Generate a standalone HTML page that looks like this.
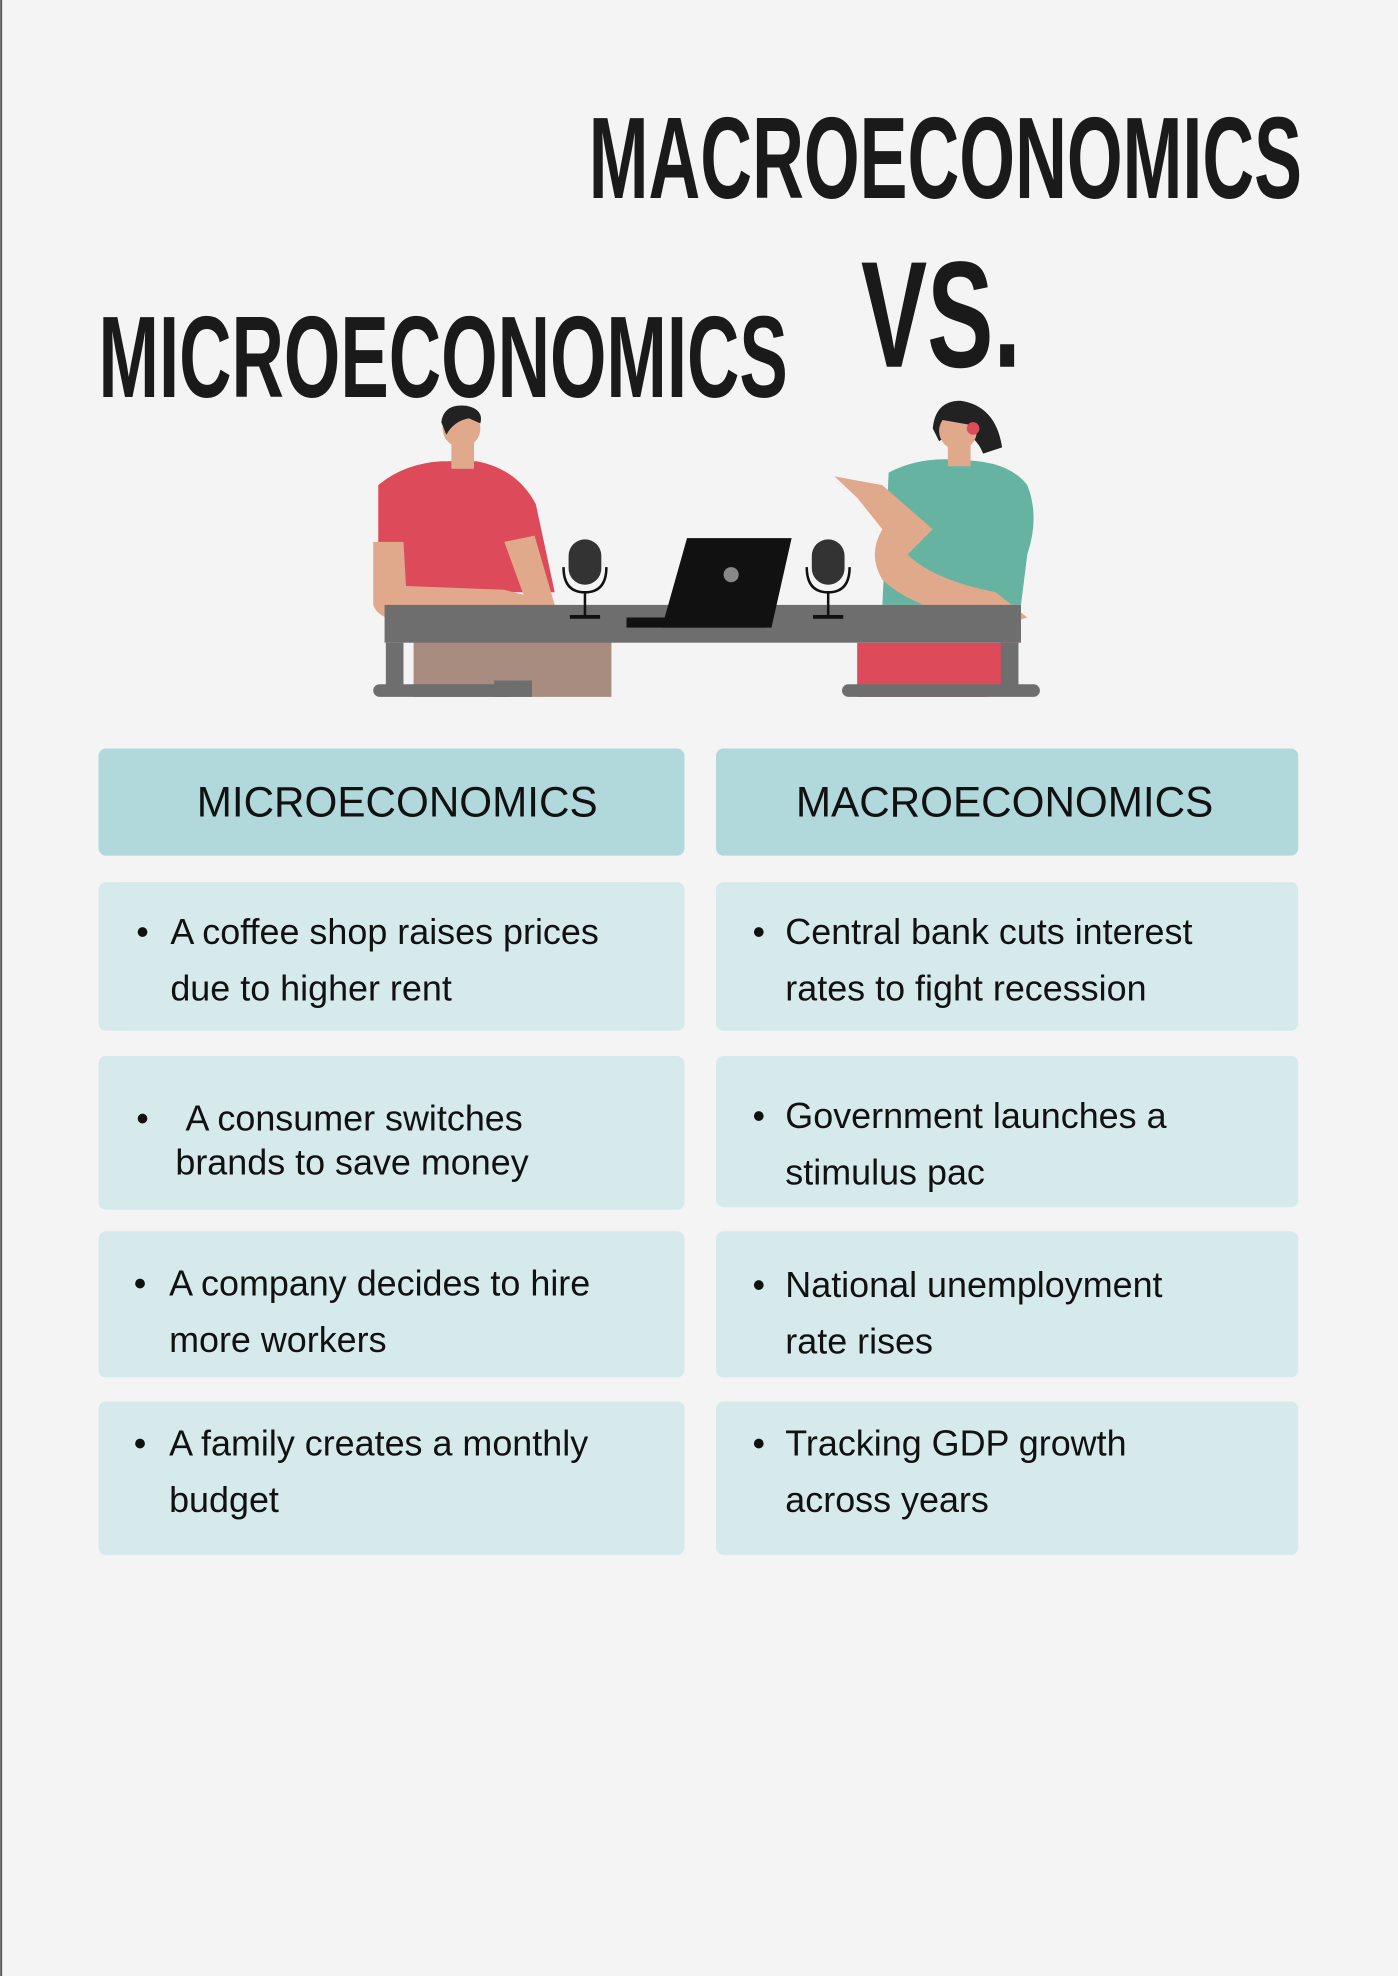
<!DOCTYPE html>
<html><head><meta charset="utf-8"><style>
html,body{margin:0;padding:0;background:#f4f4f4;}
svg{display:block;}
.t{font-family:"Liberation Sans",sans-serif;fill:#1a1a1a;}
</style></head><body>
<svg width="1398" height="1976" viewBox="0 0 1109 1568" xmlns="http://www.w3.org/2000/svg">
<rect x="0" y="0" width="1109" height="1568" fill="#f4f4f4"/>
<rect x="0" y="0" width="1.5" height="1568" fill="#555"/>

<text class="t" x="467" y="157" font-size="92" font-weight="bold" textLength="566" lengthAdjust="spacingAndGlyphs">MACROECONOMICS</text>
<text class="t" x="683" y="291" font-size="120" font-weight="bold" textLength="127" lengthAdjust="spacingAndGlyphs">VS.</text>
<text class="t" x="78" y="315" font-size="92" font-weight="bold" textLength="547" lengthAdjust="spacingAndGlyphs">MICROECONOMICS</text>

<g>
  <rect x="328" y="500" width="157" height="53" fill="#a88c80"/>
  <path d="M300 385 Q320 368 350 366 L378 366 Q410 372 425 400 L440 470 L300 470 Z" fill="#dd4a5a"/>
  <path d="M296 430 L296 480 Q300 492 320 492 L430 492 L438 478 L400 468 L322 465 L320 430 Z" fill="#e0a98b"/>
  <path d="M400 430 L424 425 L440 480 L420 485 Z" fill="#e0a98b"/>
  <rect x="358" y="350" width="18" height="22" fill="#e0a98b"/>
  <circle cx="366" cy="340" r="15" fill="#e0a98b"/>
  <path d="M350 335 Q352 320 370 322 Q384 325 381 336 L372 332 Q360 334 354 345 Z" fill="#222"/>
  <path d="M680 510 L808 510 L806 530 Q800 553 780 553 L680 553 Z" fill="#dd4a5a"/>
  <path d="M705 375 Q730 362 760 365 Q800 365 815 385 Q825 410 815 440 L810 480 L700 480 Z" fill="#67b3a2"/>
  <path d="M662 378 L700 385 L740 420 L720 440 Q740 460 790 470 L815 490 L800 495 Q730 488 700 460 Q688 440 700 420 L680 395 Z" fill="#e0a98b"/>
  <rect x="752" y="350" width="18" height="20" fill="#e0a98b"/>
  <path d="M740 340 Q742 318 762 318 Q790 322 795 355 L780 360 Q770 335 745 350 Z" fill="#222"/>
  <circle cx="760" cy="342" r="15" fill="#e0a98b"/>
  <path d="M746 333 Q752 322 768 325 Q776 330 775 338 Z" fill="#222"/>
  <circle cx="772" cy="340" r="5" fill="#dd4a5a"/>
  <rect x="305" y="480" width="505" height="30" fill="#6e6e6e"/>
  <rect x="306" y="510" width="14" height="38" fill="#6e6e6e"/>
  <rect x="392" y="540" width="30" height="13" fill="#6e6e6e"/>
  <rect x="296" y="543" width="112" height="10" rx="5" fill="#6e6e6e"/>
  <rect x="794" y="510" width="14" height="38" fill="#6e6e6e"/>
  <rect x="668" y="543" width="157" height="10" rx="5" fill="#6e6e6e"/>
  <path d="M545 427 L628 427 L612 498 L525 498 Z" fill="#111"/>
  <rect x="497" y="490" width="110" height="8" fill="#111"/>
  <circle cx="580" cy="456" r="6" fill="#888"/>
  <g>
    <rect x="451" y="428" width="26" height="36" rx="13" fill="#333"/>
    <path d="M447 450 Q447 470 464 470 Q481 470 481 450" fill="none" stroke="#111" stroke-width="2"/>
    <rect x="463" y="470" width="2" height="18" fill="#111"/><rect x="452" y="488" width="24" height="3" fill="#111"/>
  </g>
  <g>
    <rect x="644" y="428" width="26" height="36" rx="13" fill="#333"/>
    <path d="M640 450 Q640 470 657 470 Q674 470 674 450" fill="none" stroke="#111" stroke-width="2"/>
    <rect x="656" y="470" width="2" height="18" fill="#111"/><rect x="645" y="488" width="24" height="3" fill="#111"/>
  </g>
</g>

<g font-family="Liberation Sans, sans-serif" fill="#111">
  <rect x="78" y="594" width="465" height="85" rx="6" fill="#b1d8da"/>
  <text x="315" y="648" font-size="33.5" text-anchor="middle">MICROECONOMICS</text>
  <rect x="568" y="594" width="462" height="85" rx="6" fill="#b1d8da"/>
  <text x="797" y="648" font-size="33.5" text-anchor="middle">MACROECONOMICS</text>

  <g font-size="28.5">
  <rect x="78" y="700" width="465" height="118" rx="6" fill="#d6eaec"/>
  <text x="108" y="749">•</text><text x="135" y="749">A coffee shop raises prices</text><text x="135" y="794">due to higher rent</text>
  <rect x="78" y="838" width="465" height="122" rx="6" fill="#d6eaec"/>
  <text x="108" y="897">•</text><text x="147" y="897">A consumer switches</text><text x="139" y="932">brands to save money</text>
  <rect x="78" y="977" width="465" height="116" rx="6" fill="#d6eaec"/>
  <text x="106" y="1028">•</text><text x="134" y="1028">A company decides to hire</text><text x="134" y="1073">more workers</text>
  <rect x="78" y="1112" width="465" height="122" rx="6" fill="#d6eaec"/>
  <text x="106" y="1155">•</text><text x="134" y="1155">A family creates a monthly</text><text x="134" y="1200">budget</text>

  <rect x="568" y="700" width="462" height="118" rx="6" fill="#d6eaec"/>
  <text x="597" y="749">•</text><text x="623" y="749">Central bank cuts interest</text><text x="623" y="794">rates to fight recession</text>
  <rect x="568" y="838" width="462" height="120" rx="6" fill="#d6eaec"/>
  <text x="597" y="895">•</text><text x="623" y="895">Government launches a</text><text x="623" y="940">stimulus pac</text>
  <rect x="568" y="977" width="462" height="116" rx="6" fill="#d6eaec"/>
  <text x="597" y="1029">•</text><text x="623" y="1029">National unemployment</text><text x="623" y="1074">rate rises</text>
  <rect x="568" y="1112" width="462" height="122" rx="6" fill="#d6eaec"/>
  <text x="597" y="1155">•</text><text x="623" y="1155">Tracking GDP growth</text><text x="623" y="1200">across years</text>
  </g>
</g>
</svg>
</body></html>
